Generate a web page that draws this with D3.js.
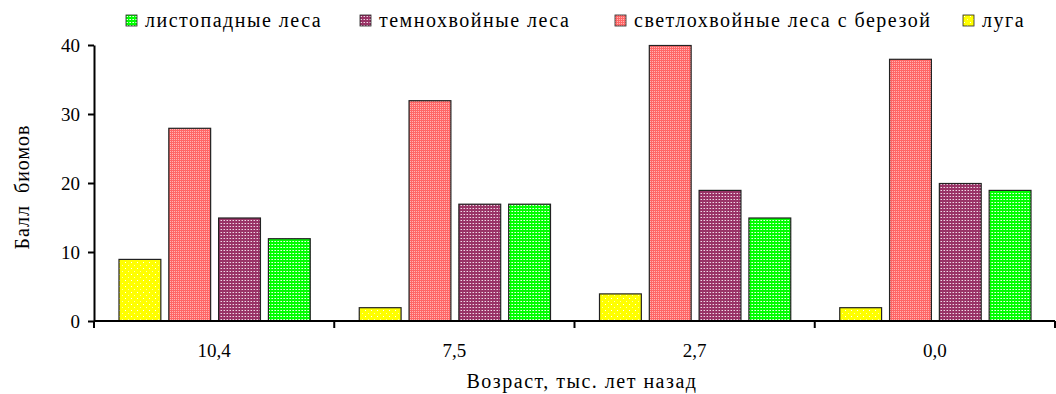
<!DOCTYPE html>
<html lang="ru">
<head>
<meta charset="utf-8">
<script src="https://d3js.org/d3.v7.min.js"></script>
<style>
  body { margin: 0; background: #fff; }
  svg text { font-family: "Liberation Serif", "DejaVu Serif", "Times New Roman", serif; fill: #000; }
</style>
</head>
<body>
<script>
// data
var ages = ["10,4", "7,5", "2,7", "0,0"];
var seriesNames = ["луга", "светлохвойные леса с березой", "темнохвойные леса", "листопадные леса"];
var luga = [9, 2, 4, 2];
var svetlo = [28, 32, 40, 38];
var temno = [15, 17, 19, 20];
var listo = [12, 17, 15, 19];
var yTicks = [0, 10, 20, 30, 40];
var legendOrder = ["листопадные леса", "темнохвойные леса", "светлохвойные леса с березой", "луга"];

var values = [luga, svetlo, temno, listo];
var fills = {
    "луга": "url(#pYellow)",
    "светлохвойные леса с березой": "url(#pRed)",
    "темнохвойные леса": "url(#pPurple)",
    "листопадные леса": "url(#pGreen)"
};
var FONT = "'Liberation Serif', 'DejaVu Serif', 'Times New Roman', serif";

var W = 1056, H = 394;
var margin = {top: 45, right: 1, bottom: 73, left: 94};
var width = W - margin.left - margin.right,
    height = H - margin.top - margin.bottom;

var svg = d3.select("body").append("svg")
    .attr("width", W)
    .attr("height", H);

// patterns
var defs = svg.append("defs");
function pattern(id, size, bg, draw) {
    var p = defs.append("pattern")
        .attr("id", id)
        .attr("patternUnits", "userSpaceOnUse")
        .attr("width", size).attr("height", size);
    p.append("rect").attr("width", size).attr("height", size).attr("fill", bg);
    draw(p);
}
pattern("pYellow", 6, "#ffff00", function(p) {
    p.append("rect").attr("x", 1).attr("y", 1).attr("width", 1).attr("height", 1).attr("fill", "#ffffff");
    p.append("rect").attr("x", 4).attr("y", 4).attr("width", 1).attr("height", 1).attr("fill", "#ffffb0");
});
pattern("pRed", 2, "#ff6666", function(p) {
    p.append("rect").attr("x", 0).attr("y", 0).attr("width", 1).attr("height", 1).attr("fill", "#ffb3b3");
});
pattern("pPurple", 3, "#993366", function(p) {
    p.append("rect").attr("x", 1).attr("y", 1).attr("width", 1).attr("height", 1).attr("fill", "#f0d8e6");
    p.append("rect").attr("x", 0).attr("y", 1).attr("width", 1).attr("height", 1).attr("fill", "#c080a0");
});
pattern("pGreen", 3, "#00ff00", function(p) {
    p.append("rect").attr("x", 1).attr("y", 1).attr("width", 1).attr("height", 1).attr("fill", "#e8ffe8");
    p.append("rect").attr("x", 0).attr("y", 1).attr("width", 1).attr("height", 1).attr("fill", "#90ff90");
});

var g = svg.append("g").attr("transform", "translate(" + margin.left + "," + margin.top + ")");

var x = d3.scaleBand().domain(ages).range([0, width]);
var xs = d3.scaleBand().domain(seriesNames).range([25, x.bandwidth() - 24]).paddingInner(0.16);
var y = d3.scaleLinear().domain([0, 40]).range([height, 0]);

// bars
seriesNames.forEach(function(name, si) {
    g.append("g").selectAll("rect")
        .data(values[si])
        .enter().append("rect")
        .attr("x", function(d, i) { return x(ages[i]) + xs(name); })
        .attr("y", function(d) { return y(d) + 0.5; })
        .attr("width", xs.bandwidth())
        .attr("height", function(d) { return height - y(d) - 0.5; })
        .attr("fill", fills[name])
        .attr("stroke", "#222")
        .attr("stroke-width", 1.2);
});

// y axis
var yAxis = g.append("g")
    .call(d3.axisLeft(y).tickValues(yTicks).tickSize(6).tickSizeOuter(0));
yAxis.attr("font-family", FONT);
yAxis.select(".domain").attr("stroke", "#000").attr("stroke-width", 2);
yAxis.selectAll(".tick line").attr("stroke", "#000").attr("stroke-width", 2);
yAxis.selectAll(".tick text").attr("x", -14).style("font-size", "19px")
    .style("font-family", FONT);

// x axis: ticks at category boundaries
var xAxisG = g.append("g").attr("transform", "translate(0," + height + ")");
xAxisG.append("line")
    .attr("x1", 0).attr("x2", width)
    .attr("stroke", "#000").attr("stroke-width", 2);
xAxisG.selectAll(".bt")
    .data(ages.concat([null]))
    .enter().append("line")
    .attr("x1", function(d, i) { return i < ages.length ? x(d) : width; })
    .attr("x2", function(d, i) { return i < ages.length ? x(d) : width; })
    .attr("y1", 0).attr("y2", 7)
    .attr("stroke", "#000").attr("stroke-width", 2);
xAxisG.selectAll(".lab")
    .data(ages)
    .enter().append("text")
    .attr("x", function(d) { return x(d) + x.bandwidth() / 2; })
    .attr("y", 36)
    .attr("text-anchor", "middle")
    .style("font-family", FONT)
    .style("font-size", "19px")
    .text(function(d) { return d; });

// axis titles
g.append("text")
    .attr("x", 582 - margin.left)
    .attr("y", height + 67)
    .attr("text-anchor", "middle")
    .style("font-family", FONT)
    .style("font-size", "20px")
    .style("letter-spacing", "1.5px")
    .text("Возраст, тыс. лет назад");

svg.append("text")
    .attr("transform", "translate(29," + 187 + ") rotate(-90)")
    .attr("text-anchor", "middle")
    .style("font-family", FONT)
    .style("font-size", "20px")
    .style("letter-spacing", "1px")
    .style("white-space", "pre")
    .text("Балл  биомов");

// legend
var legendX = [126, 360, 615, 963];
var legend = svg.append("g");
legendOrder.forEach(function(name, i) {
    var lg = legend.append("g").attr("transform", "translate(" + legendX[i] + ",15)");
    lg.append("rect")
        .attr("width", 11).attr("height", 11)
        .attr("fill", fills[name])
        .attr("stroke", "#222").attr("stroke-width", 0.8);
    lg.append("text")
        .attr("x", 19).attr("y", 12)
        .style("font-family", FONT)
        .style("font-size", "20px")
        .style("letter-spacing", "1.5px")
        .text(name);
});
</script>
</body>
</html>
